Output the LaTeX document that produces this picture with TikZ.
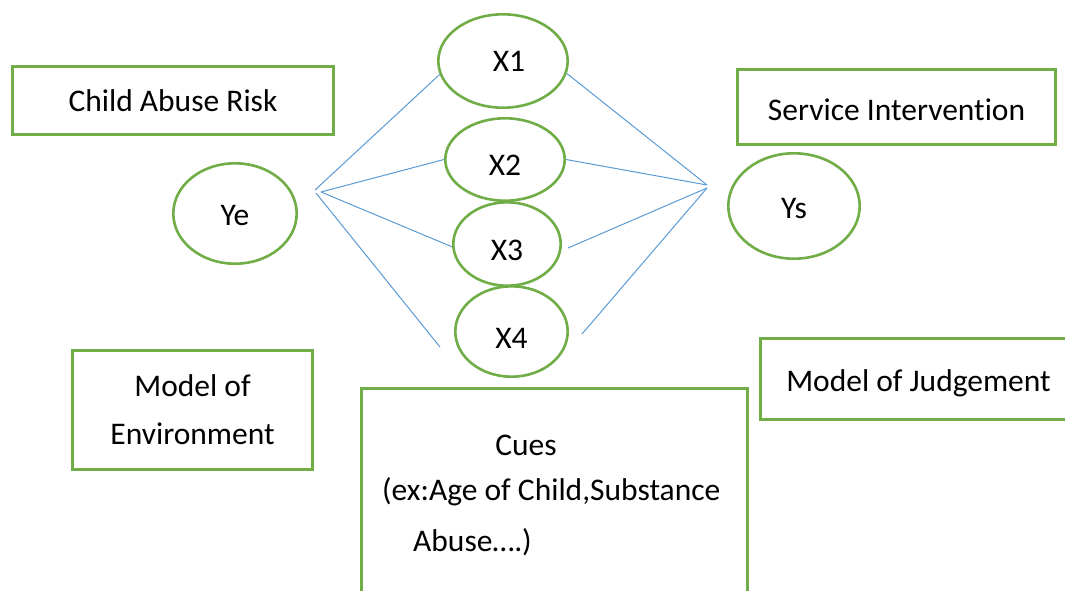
\documentclass[tikz,border=0pt]{standalone}
\usepackage{fontspec}
\setmainfont[Ligatures=NoCommon]{Carlito}
\usetikzlibrary{shapes.geometric}
\definecolor{grn}{RGB}{112,173,71}
\definecolor{blu}{RGB}{91,155,213}
\begin{document}
\begin{tikzpicture}[x=1pt,y=-1pt,
  txt/.style={font=\fontsize{31.5}{48}\selectfont,inner sep=0pt,align=center},
  box/.style={txt,draw=grn,line width=2.6pt,rectangle},
  oval/.style={txt,draw=grn,line width=2.6pt,ellipse},
  lowtext/.style={text height=#1,text depth=0pt},
  link/.style={draw=blu,line width=1pt}]
\clip (0,0) rectangle (1065,590);
\fill[white] (0,0) rectangle (1065,590);
% boxes
\node[box,minimum width=321.4pt,minimum height=68.4pt] (risk) at (173,100.5) {Child Abuse Risk};
\node[box,minimum width=240.4pt,minimum height=119.4pt] (env) at (192.5,410) {Model of\\Environment};
\node[box,lowtext=27pt,minimum width=318.4pt,minimum height=75.4pt] (serv) at (896.5,107) {Service Intervention};
\node[box,lowtext=25pt,minimum width=316.4pt,minimum height=81.4pt] (judg) at (918.5,379) {Model of Judgement};
\node[box,minimum width=386.4pt,minimum height=260pt] (cues) at (554.5,518.3) {};
\node[txt] (cuesA) at (526,445) {Cues};
\node[txt,anchor=west] (cuesB) at (382,492) {(ex:Age of Child,Substance};
\node[txt,anchor=west] (cuesC) at (413,542) {Abuse….)};
% ellipses
\node[oval,lowtext=24.3pt,minimum width=123.4pt,minimum height=100.4pt] (Ye) at (235,213.5) {Ye};
\node[oval,lowtext=24.3pt,minimum width=131.4pt,minimum height=105.4pt] (Ys) at (794,206) {Ys};
\node[oval,minimum width=129.4pt,minimum height=93.4pt] (X1) at (503,61) {\hspace*{12pt}X1};
\node[oval,lowtext=32pt,minimum width=119.4pt,minimum height=82.4pt] (X2) at (505,159.5) {X2};
\node[oval,lowtext=32pt,minimum width=107.4pt,minimum height=83.4pt] (X3) at (507,244) {X3};
\node[oval,lowtext=33pt,minimum width=112.4pt,minimum height=90.4pt] (X4) at (511.5,331.5) {X4};
% connector free ends
\coordinate (L1) at (315,190);
\coordinate (L2) at (321,192);
\coordinate (L3) at (316,193);
\coordinate (R1) at (707,185);
\coordinate (R2) at (707,188);
\coordinate (X4l) at (440,347);
\coordinate (X3r) at (568,248);
\coordinate (X4r) at (582,334);
% connectors
\draw[link] (L1) -- (X1.192);
\draw[link] (L2) -- (X2.180);
\draw[link] (L2) -- (X3.183);
\draw[link] (L3) -- (X4l);
\draw[link] (X1.349) -- (R1);
\draw[link] (X2.0) -- (R1);
\draw[link] (X3r) -- (R2);
\draw[link] (X4r) -- (R2);
\end{tikzpicture}
\end{document}
